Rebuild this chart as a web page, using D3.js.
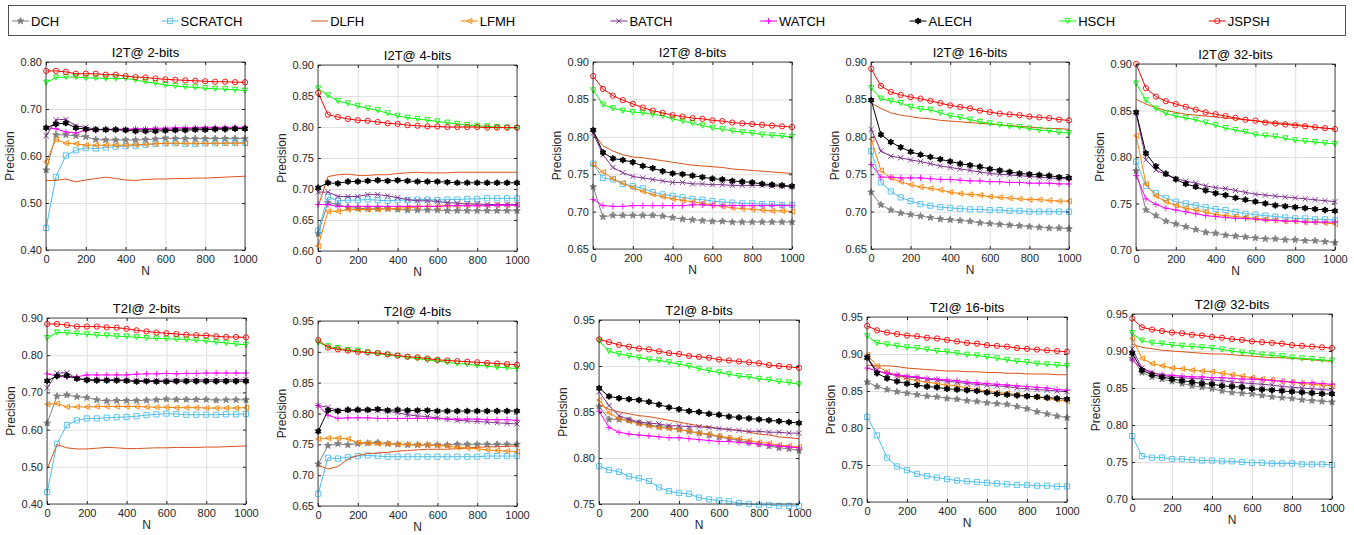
<!DOCTYPE html>
<html>
<head>
<meta charset="utf-8">
<script src="https://cdn.jsdelivr.net/npm/d3@7"></script>
<style>
  body { margin: 0; background: #fff; }
  svg { display: block; font-family: "Liberation Sans", Arial, sans-serif; }
</style>
</head>
<body>
<svg id="chart" width="1354" height="535"></svg>
<script>
// N values on the x axis
const nValues = [1, 50, 100, 150, 200, 250, 300, 350, 400, 450, 500, 550, 600, 650, 700, 750, 800, 850, 900, 950, 1000];
const xTicks = [0, 200, 400, 600, 800, 1000];

const panelTitles = ["I2T@ 2-bits", "I2T@ 4-bits", "I2T@ 8-bits", "I2T@ 16-bits", "I2T@ 32-bits",
                     "T2I@ 2-bits", "T2I@ 4-bits", "T2I@ 8-bits", "T2I@ 16-bits", "T2I@ 32-bits"];

const yTicks = [
  [0.40, 0.50, 0.60, 0.70, 0.80],
  [0.60, 0.65, 0.70, 0.75, 0.80, 0.85, 0.90],
  [0.65, 0.70, 0.75, 0.80, 0.85, 0.90],
  [0.65, 0.70, 0.75, 0.80, 0.85, 0.90],
  [0.70, 0.75, 0.80, 0.85, 0.90],
  [0.40, 0.50, 0.60, 0.70, 0.80, 0.90],
  [0.65, 0.70, 0.75, 0.80, 0.85, 0.90, 0.95],
  [0.75, 0.80, 0.85, 0.90, 0.95],
  [0.70, 0.75, 0.80, 0.85, 0.90, 0.95],
  [0.70, 0.75, 0.80, 0.85, 0.90, 0.95]
];

// one row per panel (same order as panelTitles), 21 values per row
const DCH = [
  [0.570, 0.645, 0.645, 0.643, 0.641, 0.635, 0.634, 0.634, 0.634, 0.634, 0.635, 0.636, 0.638, 0.637, 0.637, 0.637, 0.637, 0.637, 0.637, 0.637, 0.637],
  [0.628, 0.678, 0.675, 0.670, 0.669, 0.668, 0.668, 0.668, 0.667, 0.666, 0.666, 0.666, 0.666, 0.665, 0.665, 0.665, 0.665, 0.665, 0.665, 0.665, 0.665],
  [0.733, 0.693, 0.695, 0.695, 0.695, 0.695, 0.695, 0.694, 0.692, 0.690, 0.689, 0.688, 0.687, 0.687, 0.686, 0.686, 0.686, 0.686, 0.686, 0.686, 0.686],
  [0.726, 0.709, 0.702, 0.698, 0.696, 0.694, 0.692, 0.690, 0.689, 0.688, 0.687, 0.685, 0.684, 0.683, 0.682, 0.681, 0.680, 0.679, 0.678, 0.678, 0.677],
  [0.785, 0.743, 0.737, 0.731, 0.728, 0.725, 0.722, 0.719, 0.718, 0.716, 0.715, 0.714, 0.713, 0.712, 0.712, 0.711, 0.711, 0.710, 0.710, 0.709, 0.708],
  [0.617, 0.690, 0.693, 0.688, 0.686, 0.680, 0.677, 0.678, 0.678, 0.678, 0.679, 0.680, 0.682, 0.681, 0.681, 0.681, 0.681, 0.679, 0.680, 0.680, 0.680],
  [0.718, 0.748, 0.751, 0.749, 0.751, 0.752, 0.753, 0.751, 0.750, 0.749, 0.749, 0.749, 0.749, 0.749, 0.750, 0.750, 0.750, 0.750, 0.750, 0.750, 0.750],
  [0.856, 0.842, 0.842, 0.841, 0.838, 0.836, 0.834, 0.833, 0.831, 0.829, 0.827, 0.825, 0.823, 0.821, 0.819, 0.817, 0.815, 0.813, 0.811, 0.810, 0.808],
  [0.862, 0.856, 0.852, 0.849, 0.847, 0.845, 0.843, 0.842, 0.840, 0.839, 0.837, 0.836, 0.834, 0.833, 0.832, 0.829, 0.826, 0.822, 0.819, 0.816, 0.814],
  [0.890, 0.871, 0.865, 0.862, 0.859, 0.856, 0.853, 0.851, 0.849, 0.846, 0.844, 0.843, 0.842, 0.840, 0.838, 0.837, 0.836, 0.834, 0.833, 0.832, 0.831]
];
const SCRATCH = [
  [0.447, 0.556, 0.601, 0.612, 0.617, 0.616, 0.618, 0.620, 0.621, 0.622, 0.624, 0.626, 0.627, 0.627, 0.626, 0.626, 0.627, 0.627, 0.628, 0.628, 0.628],
  [0.633, 0.687, 0.681, 0.682, 0.682, 0.683, 0.682, 0.681, 0.682, 0.682, 0.683, 0.683, 0.682, 0.683, 0.683, 0.684, 0.684, 0.685, 0.685, 0.685, 0.685],
  [0.764, 0.745, 0.743, 0.737, 0.734, 0.731, 0.726, 0.723, 0.721, 0.719, 0.717, 0.716, 0.714, 0.713, 0.712, 0.711, 0.711, 0.710, 0.710, 0.709, 0.709],
  [0.781, 0.739, 0.727, 0.719, 0.714, 0.710, 0.708, 0.706, 0.705, 0.704, 0.703, 0.703, 0.702, 0.702, 0.701, 0.701, 0.700, 0.700, 0.700, 0.700, 0.700],
  [0.795, 0.769, 0.761, 0.756, 0.752, 0.750, 0.748, 0.746, 0.744, 0.743, 0.741, 0.739, 0.738, 0.737, 0.736, 0.735, 0.734, 0.734, 0.733, 0.733, 0.732],
  [0.432, 0.562, 0.612, 0.625, 0.630, 0.630, 0.632, 0.633, 0.634, 0.636, 0.639, 0.641, 0.643, 0.642, 0.640, 0.640, 0.640, 0.640, 0.641, 0.641, 0.642],
  [0.670, 0.728, 0.727, 0.729, 0.731, 0.732, 0.731, 0.730, 0.730, 0.730, 0.730, 0.730, 0.730, 0.730, 0.730, 0.730, 0.730, 0.731, 0.731, 0.731, 0.731],
  [0.791, 0.787, 0.785, 0.780, 0.778, 0.775, 0.768, 0.764, 0.762, 0.761, 0.757, 0.755, 0.754, 0.753, 0.751, 0.750, 0.749, 0.749, 0.748, 0.748, 0.748],
  [0.815, 0.790, 0.760, 0.748, 0.743, 0.738, 0.735, 0.733, 0.731, 0.729, 0.728, 0.727, 0.726, 0.725, 0.724, 0.723, 0.723, 0.722, 0.722, 0.721, 0.721],
  [0.785, 0.758, 0.756, 0.756, 0.754, 0.754, 0.753, 0.752, 0.752, 0.751, 0.751, 0.750, 0.749, 0.749, 0.748, 0.748, 0.748, 0.747, 0.747, 0.747, 0.746]
];
const DLFH = [
  [0.548, 0.548, 0.551, 0.545, 0.549, 0.552, 0.555, 0.552, 0.549, 0.548, 0.550, 0.551, 0.551, 0.552, 0.552, 0.553, 0.553, 0.554, 0.555, 0.556, 0.557],
  [0.672, 0.720, 0.723, 0.724, 0.722, 0.722, 0.723, 0.723, 0.725, 0.726, 0.727, 0.726, 0.726, 0.726, 0.727, 0.727, 0.727, 0.727, 0.727, 0.727, 0.727],
  [0.805, 0.788, 0.781, 0.776, 0.773, 0.772, 0.770, 0.768, 0.766, 0.764, 0.762, 0.761, 0.760, 0.759, 0.757, 0.756, 0.755, 0.754, 0.753, 0.752, 0.751],
  [0.845, 0.838, 0.832, 0.829, 0.827, 0.825, 0.824, 0.822, 0.821, 0.820, 0.819, 0.818, 0.817, 0.816, 0.815, 0.814, 0.813, 0.812, 0.811, 0.811, 0.810],
  [0.862, 0.857, 0.853, 0.850, 0.848, 0.846, 0.845, 0.844, 0.843, 0.842, 0.841, 0.840, 0.839, 0.838, 0.837, 0.836, 0.835, 0.834, 0.832, 0.831, 0.830],
  [0.495, 0.560, 0.551, 0.548, 0.548, 0.550, 0.552, 0.551, 0.549, 0.549, 0.550, 0.551, 0.551, 0.552, 0.552, 0.552, 0.553, 0.553, 0.554, 0.555, 0.556],
  [0.716, 0.710, 0.714, 0.726, 0.732, 0.735, 0.736, 0.737, 0.739, 0.740, 0.741, 0.742, 0.742, 0.742, 0.743, 0.744, 0.745, 0.746, 0.746, 0.747, 0.747],
  [0.858, 0.853, 0.850, 0.848, 0.846, 0.845, 0.843, 0.841, 0.839, 0.837, 0.835, 0.834, 0.832, 0.831, 0.830, 0.828, 0.826, 0.825, 0.823, 0.822, 0.821],
  [0.885, 0.884, 0.884, 0.883, 0.881, 0.880, 0.879, 0.878, 0.877, 0.877, 0.876, 0.876, 0.875, 0.875, 0.874, 0.874, 0.873, 0.873, 0.873, 0.872, 0.872],
  [0.909, 0.905, 0.903, 0.901, 0.900, 0.899, 0.898, 0.897, 0.896, 0.896, 0.895, 0.894, 0.893, 0.892, 0.891, 0.891, 0.890, 0.889, 0.888, 0.887, 0.886]
];
const LFMH = [
  [0.588, 0.635, 0.627, 0.626, 0.623, 0.623, 0.623, 0.623, 0.623, 0.624, 0.625, 0.626, 0.627, 0.627, 0.627, 0.627, 0.627, 0.627, 0.627, 0.627, 0.627],
  [0.608, 0.664, 0.664, 0.667, 0.667, 0.667, 0.667, 0.668, 0.669, 0.670, 0.671, 0.672, 0.672, 0.673, 0.673, 0.674, 0.674, 0.674, 0.674, 0.674, 0.674],
  [0.763, 0.753, 0.744, 0.738, 0.732, 0.727, 0.723, 0.720, 0.717, 0.715, 0.713, 0.711, 0.709, 0.707, 0.705, 0.704, 0.703, 0.702, 0.701, 0.701, 0.700],
  [0.797, 0.755, 0.745, 0.740, 0.736, 0.733, 0.731, 0.729, 0.726, 0.724, 0.723, 0.722, 0.720, 0.719, 0.718, 0.717, 0.716, 0.716, 0.715, 0.714, 0.714],
  [0.823, 0.771, 0.758, 0.752, 0.748, 0.745, 0.743, 0.741, 0.738, 0.737, 0.736, 0.735, 0.734, 0.733, 0.732, 0.731, 0.731, 0.730, 0.730, 0.729, 0.728],
  [0.668, 0.670, 0.661, 0.661, 0.661, 0.662, 0.662, 0.662, 0.662, 0.662, 0.661, 0.660, 0.660, 0.659, 0.659, 0.659, 0.658, 0.658, 0.658, 0.658, 0.659],
  [0.759, 0.760, 0.760, 0.759, 0.753, 0.752, 0.751, 0.751, 0.750, 0.750, 0.749, 0.749, 0.748, 0.747, 0.745, 0.744, 0.743, 0.741, 0.740, 0.739, 0.738],
  [0.863, 0.849, 0.843, 0.840, 0.837, 0.835, 0.833, 0.832, 0.831, 0.829, 0.827, 0.826, 0.824, 0.822, 0.821, 0.819, 0.817, 0.816, 0.814, 0.813, 0.812],
  [0.899, 0.884, 0.876, 0.871, 0.867, 0.864, 0.862, 0.860, 0.858, 0.857, 0.854, 0.852, 0.850, 0.848, 0.847, 0.845, 0.843, 0.842, 0.840, 0.838, 0.836],
  [0.917, 0.890, 0.883, 0.880, 0.877, 0.876, 0.874, 0.873, 0.872, 0.870, 0.868, 0.866, 0.864, 0.862, 0.861, 0.859, 0.858, 0.856, 0.855, 0.854, 0.853]
];
const BATCH = [
  [0.643, 0.677, 0.678, 0.664, 0.661, 0.657, 0.656, 0.656, 0.656, 0.656, 0.656, 0.657, 0.657, 0.657, 0.658, 0.658, 0.658, 0.658, 0.659, 0.659, 0.659],
  [0.695, 0.695, 0.688, 0.688, 0.688, 0.691, 0.691, 0.689, 0.686, 0.683, 0.681, 0.681, 0.680, 0.678, 0.677, 0.676, 0.676, 0.675, 0.675, 0.675, 0.675],
  [0.805, 0.776, 0.759, 0.752, 0.747, 0.745, 0.743, 0.741, 0.739, 0.739, 0.737, 0.737, 0.736, 0.736, 0.735, 0.735, 0.735, 0.735, 0.734, 0.734, 0.733],
  [0.810, 0.781, 0.774, 0.772, 0.769, 0.767, 0.764, 0.761, 0.759, 0.757, 0.755, 0.753, 0.751, 0.750, 0.749, 0.748, 0.747, 0.746, 0.745, 0.744, 0.744],
  [0.847, 0.797, 0.786, 0.781, 0.777, 0.774, 0.772, 0.769, 0.767, 0.766, 0.764, 0.762, 0.760, 0.759, 0.758, 0.757, 0.756, 0.755, 0.754, 0.753, 0.752],
  [0.712, 0.752, 0.753, 0.737, 0.735, 0.734, 0.734, 0.734, 0.733, 0.732, 0.732, 0.732, 0.733, 0.733, 0.734, 0.734, 0.734, 0.734, 0.734, 0.734, 0.735],
  [0.813, 0.810, 0.805, 0.805, 0.805, 0.805, 0.805, 0.804, 0.801, 0.798, 0.796, 0.795, 0.793, 0.791, 0.789, 0.788, 0.787, 0.786, 0.785, 0.784, 0.783],
  [0.872, 0.857, 0.846, 0.842, 0.839, 0.838, 0.837, 0.835, 0.835, 0.834, 0.834, 0.833, 0.832, 0.831, 0.830, 0.829, 0.829, 0.828, 0.828, 0.827, 0.827],
  [0.895, 0.878, 0.873, 0.871, 0.869, 0.868, 0.866, 0.865, 0.863, 0.862, 0.860, 0.859, 0.858, 0.857, 0.856, 0.854, 0.853, 0.852, 0.851, 0.850, 0.849],
  [0.903, 0.877, 0.871, 0.867, 0.865, 0.864, 0.863, 0.862, 0.861, 0.860, 0.858, 0.857, 0.856, 0.855, 0.854, 0.852, 0.851, 0.850, 0.849, 0.848, 0.847]
];
const WATCH = [
  [0.660, 0.658, 0.651, 0.649, 0.655, 0.656, 0.657, 0.657, 0.657, 0.658, 0.658, 0.659, 0.659, 0.660, 0.660, 0.660, 0.661, 0.661, 0.661, 0.661, 0.661],
  [0.675, 0.675, 0.672, 0.672, 0.672, 0.672, 0.672, 0.672, 0.672, 0.672, 0.672, 0.672, 0.672, 0.673, 0.673, 0.673, 0.673, 0.673, 0.674, 0.674, 0.674],
  [0.716, 0.708, 0.707, 0.707, 0.708, 0.708, 0.708, 0.708, 0.708, 0.708, 0.709, 0.709, 0.708, 0.708, 0.708, 0.708, 0.708, 0.708, 0.708, 0.708, 0.708],
  [0.763, 0.746, 0.746, 0.745, 0.745, 0.745, 0.744, 0.743, 0.743, 0.742, 0.741, 0.741, 0.740, 0.740, 0.739, 0.739, 0.738, 0.738, 0.738, 0.737, 0.737],
  [0.780, 0.755, 0.749, 0.745, 0.743, 0.741, 0.739, 0.737, 0.736, 0.735, 0.734, 0.734, 0.733, 0.732, 0.732, 0.731, 0.731, 0.730, 0.730, 0.730, 0.730],
  [0.750, 0.744, 0.741, 0.742, 0.747, 0.747, 0.747, 0.747, 0.747, 0.749, 0.750, 0.750, 0.751, 0.750, 0.751, 0.751, 0.752, 0.752, 0.752, 0.752, 0.752],
  [0.813, 0.797, 0.792, 0.793, 0.793, 0.793, 0.792, 0.792, 0.792, 0.792, 0.792, 0.792, 0.792, 0.791, 0.791, 0.791, 0.791, 0.790, 0.790, 0.790, 0.789],
  [0.851, 0.833, 0.828, 0.826, 0.825, 0.824, 0.823, 0.822, 0.822, 0.821, 0.820, 0.819, 0.818, 0.818, 0.817, 0.816, 0.815, 0.814, 0.813, 0.812, 0.811],
  [0.881, 0.877, 0.874, 0.872, 0.870, 0.869, 0.867, 0.866, 0.865, 0.864, 0.862, 0.861, 0.860, 0.859, 0.858, 0.857, 0.856, 0.855, 0.854, 0.852, 0.851],
  [0.888, 0.876, 0.870, 0.868, 0.867, 0.866, 0.865, 0.865, 0.864, 0.864, 0.863, 0.862, 0.862, 0.861, 0.860, 0.859, 0.858, 0.857, 0.857, 0.856, 0.855]
];
const ALECH = [
  [0.660, 0.668, 0.670, 0.660, 0.657, 0.656, 0.656, 0.656, 0.655, 0.653, 0.653, 0.653, 0.654, 0.655, 0.655, 0.656, 0.656, 0.657, 0.657, 0.658, 0.658],
  [0.702, 0.710, 0.709, 0.712, 0.712, 0.713, 0.714, 0.713, 0.714, 0.713, 0.712, 0.712, 0.712, 0.711, 0.710, 0.710, 0.710, 0.710, 0.710, 0.710, 0.710],
  [0.809, 0.779, 0.771, 0.769, 0.766, 0.761, 0.758, 0.754, 0.751, 0.750, 0.748, 0.746, 0.744, 0.743, 0.741, 0.740, 0.739, 0.737, 0.736, 0.735, 0.734],
  [0.849, 0.803, 0.793, 0.786, 0.780, 0.776, 0.773, 0.770, 0.767, 0.764, 0.762, 0.760, 0.757, 0.755, 0.753, 0.751, 0.750, 0.749, 0.748, 0.746, 0.745],
  [0.848, 0.804, 0.790, 0.782, 0.776, 0.771, 0.768, 0.764, 0.761, 0.759, 0.756, 0.754, 0.752, 0.750, 0.748, 0.747, 0.746, 0.745, 0.744, 0.743, 0.742],
  [0.731, 0.744, 0.745, 0.737, 0.733, 0.732, 0.732, 0.732, 0.731, 0.729, 0.730, 0.729, 0.729, 0.730, 0.730, 0.730, 0.730, 0.730, 0.730, 0.730, 0.730],
  [0.771, 0.805, 0.804, 0.806, 0.806, 0.806, 0.807, 0.805, 0.806, 0.805, 0.805, 0.805, 0.804, 0.804, 0.804, 0.804, 0.804, 0.804, 0.804, 0.804, 0.804],
  [0.876, 0.867, 0.865, 0.864, 0.863, 0.861, 0.858, 0.855, 0.853, 0.851, 0.850, 0.848, 0.847, 0.845, 0.844, 0.843, 0.842, 0.841, 0.840, 0.839, 0.838],
  [0.895, 0.874, 0.867, 0.863, 0.860, 0.858, 0.856, 0.855, 0.853, 0.852, 0.851, 0.850, 0.848, 0.846, 0.845, 0.844, 0.843, 0.842, 0.841, 0.840, 0.839],
  [0.897, 0.874, 0.868, 0.865, 0.862, 0.860, 0.858, 0.856, 0.855, 0.853, 0.852, 0.851, 0.849, 0.848, 0.847, 0.846, 0.845, 0.844, 0.843, 0.842, 0.842]
];
const HSCH = [
  [0.756, 0.767, 0.768, 0.768, 0.766, 0.766, 0.765, 0.765, 0.765, 0.762, 0.758, 0.755, 0.751, 0.749, 0.747, 0.746, 0.744, 0.743, 0.742, 0.741, 0.739],
  [0.862, 0.851, 0.842, 0.838, 0.834, 0.830, 0.827, 0.822, 0.818, 0.815, 0.813, 0.811, 0.809, 0.807, 0.805, 0.803, 0.802, 0.801, 0.800, 0.799, 0.798],
  [0.862, 0.843, 0.838, 0.835, 0.833, 0.832, 0.830, 0.828, 0.824, 0.821, 0.818, 0.815, 0.812, 0.810, 0.808, 0.806, 0.805, 0.803, 0.802, 0.801, 0.800],
  [0.865, 0.851, 0.848, 0.845, 0.840, 0.837, 0.836, 0.832, 0.828, 0.826, 0.823, 0.820, 0.818, 0.816, 0.814, 0.813, 0.811, 0.809, 0.808, 0.806, 0.805],
  [0.879, 0.861, 0.852, 0.847, 0.844, 0.842, 0.840, 0.837, 0.834, 0.831, 0.829, 0.827, 0.824, 0.823, 0.822, 0.820, 0.818, 0.817, 0.816, 0.815, 0.814],
  [0.846, 0.861, 0.860, 0.858, 0.856, 0.854, 0.853, 0.851, 0.850, 0.848, 0.846, 0.845, 0.844, 0.843, 0.842, 0.840, 0.838, 0.835, 0.833, 0.830, 0.828],
  [0.915, 0.909, 0.906, 0.903, 0.902, 0.899, 0.897, 0.895, 0.893, 0.891, 0.889, 0.887, 0.885, 0.883, 0.881, 0.880, 0.878, 0.877, 0.875, 0.874, 0.873],
  [0.927, 0.916, 0.913, 0.911, 0.909, 0.907, 0.906, 0.904, 0.902, 0.900, 0.897, 0.895, 0.893, 0.891, 0.889, 0.888, 0.886, 0.885, 0.883, 0.882, 0.880],
  [0.924, 0.915, 0.913, 0.911, 0.909, 0.908, 0.906, 0.904, 0.903, 0.901, 0.899, 0.898, 0.896, 0.894, 0.892, 0.890, 0.889, 0.887, 0.886, 0.885, 0.884],
  [0.924, 0.914, 0.911, 0.910, 0.908, 0.907, 0.906, 0.905, 0.904, 0.902, 0.900, 0.898, 0.897, 0.895, 0.894, 0.893, 0.891, 0.890, 0.889, 0.888, 0.887]
];
const JSPSH = [
  [0.781, 0.781, 0.779, 0.775, 0.775, 0.775, 0.773, 0.773, 0.770, 0.768, 0.767, 0.765, 0.763, 0.762, 0.761, 0.760, 0.759, 0.758, 0.758, 0.757, 0.757],
  [0.855, 0.820, 0.816, 0.813, 0.811, 0.810, 0.808, 0.806, 0.805, 0.803, 0.802, 0.801, 0.801, 0.800, 0.800, 0.800, 0.800, 0.799, 0.799, 0.799, 0.799],
  [0.881, 0.864, 0.855, 0.849, 0.844, 0.839, 0.835, 0.832, 0.829, 0.827, 0.825, 0.824, 0.822, 0.821, 0.819, 0.818, 0.817, 0.816, 0.815, 0.814, 0.813],
  [0.891, 0.868, 0.860, 0.856, 0.853, 0.851, 0.848, 0.845, 0.842, 0.840, 0.838, 0.835, 0.833, 0.831, 0.830, 0.829, 0.827, 0.826, 0.825, 0.823, 0.822],
  [0.900, 0.874, 0.865, 0.860, 0.857, 0.854, 0.851, 0.848, 0.846, 0.844, 0.842, 0.840, 0.839, 0.837, 0.836, 0.835, 0.834, 0.833, 0.832, 0.831, 0.830],
  [0.884, 0.884, 0.881, 0.877, 0.877, 0.877, 0.875, 0.874, 0.871, 0.867, 0.864, 0.861, 0.859, 0.857, 0.855, 0.854, 0.853, 0.851, 0.849, 0.849, 0.848],
  [0.919, 0.907, 0.904, 0.902, 0.900, 0.899, 0.898, 0.896, 0.894, 0.892, 0.891, 0.889, 0.887, 0.886, 0.885, 0.884, 0.883, 0.882, 0.881, 0.880, 0.879],
  [0.929, 0.926, 0.923, 0.921, 0.919, 0.918, 0.916, 0.914, 0.913, 0.911, 0.910, 0.909, 0.907, 0.906, 0.905, 0.904, 0.903, 0.901, 0.900, 0.899, 0.898],
  [0.938, 0.932, 0.929, 0.927, 0.925, 0.924, 0.922, 0.921, 0.919, 0.917, 0.915, 0.914, 0.912, 0.911, 0.910, 0.908, 0.907, 0.906, 0.905, 0.904, 0.903],
  [0.944, 0.932, 0.929, 0.927, 0.925, 0.924, 0.922, 0.921, 0.919, 0.918, 0.916, 0.915, 0.913, 0.912, 0.911, 0.910, 0.908, 0.907, 0.906, 0.905, 0.904]
];

const series = [
  { name: "DCH",     data: DCH,     color: "#808080", marker: "star5" },
  { name: "SCRATCH", data: SCRATCH, color: "#4DBEEE", marker: "square" },
  { name: "DLFH",    data: DLFH,    color: "#D95319", marker: "none" },
  { name: "LFMH",    data: LFMH,    color: "#FF8000", marker: "triLeft" },
  { name: "BATCH",   data: BATCH,   color: "#7E2F8E", marker: "x" },
  { name: "WATCH",   data: WATCH,   color: "#FF00FF", marker: "plus" },
  { name: "ALECH",   data: ALECH,   color: "#000000", marker: "star6" },
  { name: "HSCH",    data: HSCH,    color: "#00FF00", marker: "triDown" },
  { name: "JSPSH",   data: JSPSH,   color: "#FF0000", marker: "circle" }
];

// plot area of every panel, in pixels
const frames = [
  { l: 46,   t: 62,  r: 245,  b: 250 },
  { l: 318,  t: 65,  r: 517,  b: 251 },
  { l: 593,  t: 62,  r: 792,  b: 249 },
  { l: 871,  t: 62,  r: 1069, b: 249 },
  { l: 1136, t: 64,  r: 1335, b: 250 },
  { l: 47,   t: 318, r: 246,  b: 504 },
  { l: 318,  t: 321, r: 517,  b: 506 },
  { l: 599,  t: 320, r: 799,  b: 504 },
  { l: 867,  t: 317, r: 1067, b: 502 },
  { l: 1132, t: 314, r: 1332, b: 499 }
];

const svg = d3.select("#chart");
const axisColor = "#262626";

function starPath(points, outer, inner) {
  const pts = [];
  for (let i = 0; i < points * 2; i++) {
    const r = i % 2 === 0 ? outer : inner;
    const a = -Math.PI / 2 + i * Math.PI / points;
    pts.push([r * Math.cos(a), r * Math.sin(a)]);
  }
  return "M" + pts.map(p => p[0].toFixed(2) + "," + p[1].toFixed(2)).join("L") + "Z";
}

function drawMarker(g, s, x, y) {
  const k = 2.6;
  const m = g.append("path")
    .attr("transform", `translate(${x},${y})`)
    .attr("stroke", s.color)
    .attr("stroke-width", 0.9)
    .attr("fill", "none");
  switch (s.marker) {
    case "circle":  m.attr("d", d3.symbol(d3.symbolCircle, 22)()); break;
    case "square":  m.attr("d", `M${-k},${-k}H${k}V${k}H${-k}Z`); break;
    case "triLeft": m.attr("d", `M${-k},0L${k},${-k}L${k},${k}Z`); break;
    case "triDown": m.attr("d", `M${-k},${-k}L${k},${-k}L0,${k}Z`); break;
    case "x":       m.attr("d", `M${-k},${-k}L${k},${k}M${-k},${k}L${k},${-k}`); break;
    case "plus":    m.attr("d", `M${-k - 0.5},0H${k + 0.5}M0,${-k - 0.5}V${k + 0.5}`); break;
    case "star5":   m.attr("d", starPath(5, 3.5, 1.5)).attr("fill", s.color); break;
    case "star6":   m.attr("d", starPath(6, 3.2, 1.9)).attr("fill", s.color); break;
    default: m.remove();
  }
}

// legend
const legend = svg.append("g");
legend.append("rect")
  .attr("x", 8.5).attr("y", 5.5)
  .attr("width", 1337).attr("height", 30)
  .attr("fill", "#fff")
  .attr("stroke", axisColor)
  .attr("stroke-width", 0.8);

series.forEach((s, i) => {
  const g = legend.append("g").attr("transform", `translate(${12 + i * 149.6},21)`);
  g.append("line")
    .attr("x1", 0).attr("x2", 17)
    .attr("stroke", s.color)
    .attr("stroke-width", 1);
  drawMarker(g, s, 8.5, 0);
  g.append("text")
    .attr("x", 19)
    .attr("dy", "0.36em")
    .attr("font-size", 13)
    .attr("fill", "#000")
    .text(s.name);
});

// panels
frames.forEach((f, p) => {
  const w = f.r - f.l;
  const h = f.b - f.t;
  const x = d3.scaleLinear().domain([0, 1000]).range([f.l, f.r]);
  const y = d3.scaleLinear().domain(d3.extent(yTicks[p])).range([f.b, f.t]);

  const g = svg.append("g");

  // grid
  g.append("g")
    .attr("transform", `translate(0,${f.b})`)
    .call(d3.axisBottom(x).tickValues(xTicks).tickSize(-h).tickFormat(""))
    .call(a => a.select(".domain").remove())
    .call(a => a.selectAll("line").attr("stroke", "#e0e0e0"));
  g.append("g")
    .attr("transform", `translate(${f.l},0)`)
    .call(d3.axisLeft(y).tickValues(yTicks[p]).tickSize(-w).tickFormat(""))
    .call(a => a.select(".domain").remove())
    .call(a => a.selectAll("line").attr("stroke", "#e0e0e0"));

  // lines and markers
  const line = d3.line().x((d, i) => x(nValues[i])).y(d => y(d));
  series.forEach(s => {
    const vals = s.data[p];
    g.append("path")
      .attr("d", line(vals))
      .attr("fill", "none")
      .attr("stroke", s.color)
      .attr("stroke-width", 1);
    vals.forEach((v, i) => drawMarker(g, s, x(nValues[i]), y(v)));
  });

  // box
  g.append("rect")
    .attr("x", f.l).attr("y", f.t)
    .attr("width", w).attr("height", h)
    .attr("fill", "none")
    .attr("stroke", axisColor)
    .attr("stroke-width", 0.8);

  // axes, ticks inward
  const style = a => {
    a.attr("font-size", null).attr("font-family", null);
    a.select(".domain").remove();
    a.selectAll("line").attr("stroke", axisColor);
    a.selectAll("text").attr("fill", axisColor).attr("font-size", 11);
  };
  g.append("g")
    .attr("transform", `translate(0,${f.b})`)
    .call(d3.axisBottom(x).tickValues(xTicks).tickFormat(d3.format("d")).tickSize(-3).tickPadding(5))
    .call(style);
  g.append("g")
    .attr("transform", `translate(${f.l},0)`)
    .call(d3.axisLeft(y).tickValues(yTicks[p]).tickFormat(d3.format(".2f")).tickSize(-3).tickPadding(4))
    .call(style);
  g.append("g")
    .attr("transform", `translate(0,${f.t})`)
    .call(d3.axisTop(x).tickValues(xTicks).tickSize(-3).tickFormat(""))
    .call(style);
  g.append("g")
    .attr("transform", `translate(${f.r},0)`)
    .call(d3.axisRight(y).tickValues(yTicks[p]).tickSize(-3).tickFormat(""))
    .call(style);

  // title and labels
  g.append("text")
    .attr("x", (f.l + f.r) / 2)
    .attr("y", f.t - 5)
    .attr("text-anchor", "middle")
    .attr("font-size", 13)
    .attr("fill", "#000")
    .text(panelTitles[p]);
  g.append("text")
    .attr("transform", `translate(${f.l - 32},${(f.t + f.b) / 2}) rotate(-90)`)
    .attr("text-anchor", "middle")
    .attr("font-size", 12)
    .attr("fill", axisColor)
    .text("Precision");
  g.append("text")
    .attr("x", (f.l + f.r) / 2)
    .attr("y", f.b + 25)
    .attr("text-anchor", "middle")
    .attr("font-size", 12)
    .attr("fill", axisColor)
    .text("N");
});
</script>
</body>
</html>
